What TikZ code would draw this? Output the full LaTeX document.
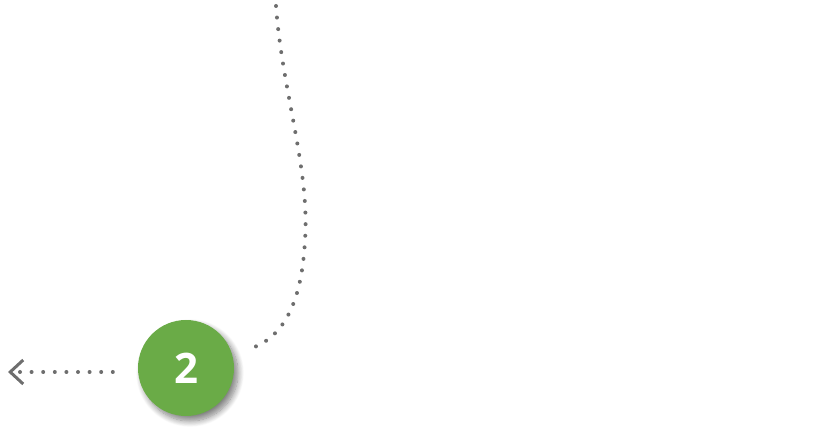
\documentclass[tikz,border=0pt]{standalone}
\usepackage{fontspec}
\setmainfont{Open Sans}
\usetikzlibrary{arrows.meta,shadows.blur}
\definecolor{stepgreen}{HTML}{6AAB47}
\definecolor{dotgray}{HTML}{6E6E6E}
\begin{document}
\begin{tikzpicture}[x=1pt, y=-1pt,
  dotline/.style={dotgray, line width=4pt, line cap=round, dash pattern=on 0pt off 11.6pt},
  stepdot/.style={circle, fill=stepgreen, minimum size=96pt, inner sep=0pt,
    text=white, font=\bfseries\fontsize{42}{42}\selectfont,
    blur shadow={shadow xshift=4pt, shadow yshift=-5pt, shadow blur radius=6pt,
      shadow blur steps=10, shadow opacity=50}}]
  \useasboundingbox (0,0) rectangle (833,446);
  % Marker
  \node[stepdot] (num2) at (186,368) {2};
  % Ends
  \coordinate (top) at (276,6);
  \coordinate (exit) at (8,372);
  \coordinate (near) at (252,348);
  % Curve from above
  \draw[dotline] (top)
    .. controls (282,90) and (310,170) .. (305,240)
    .. controls (302,300) and (285,336) .. (near);
  % Exit arrow
  \draw[dotline, -{Straight Barb[length=13pt, width=24pt, line width=3pt]}]
    ([xshift=-25pt,yshift=-4pt]num2.west) -- (exit);
\end{tikzpicture}
\end{document}
